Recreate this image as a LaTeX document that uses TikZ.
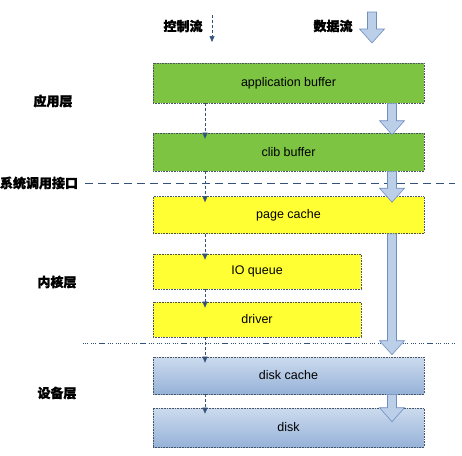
\documentclass[tikz,border=0pt]{standalone}
\usepackage{fontspec}
\setmainfont{Liberation Sans}
\newfontfamily\cjk{Noto Sans CJK SC}[BoldFeatures={FakeBold=1.5}]
\usetikzlibrary{calc,arrows.meta}
\definecolor{appgreen}{RGB}{124,196,66}
\definecolor{kernyellow}{RGB}{255,255,51}
\definecolor{devtop}{RGB}{204,219,238}
\definecolor{devbot}{RGB}{150,178,216}
\definecolor{flowfill}{RGB}{188,207,232}
\definecolor{flowline}{RGB}{112,142,192}
\definecolor{ctlblue}{RGB}{52,82,122}
\definecolor{boxline}{RGB}{70,84,100}

\newcommand\dataflow[2]{%
  \filldraw[flow] let \p1=(#1), \p2=(#2) in
    (\x1-4.5pt,\y1) -- (\x1-4.5pt,\y2+14pt) -- (\x1-12.5pt,\y2+14pt) -- (\x1,\y2)
    -- (\x1+12.5pt,\y2+14pt) -- (\x1+4.5pt,\y2+14pt) -- (\x1+4.5pt,\y1) -- cycle;}

\begin{document}
\begin{tikzpicture}[x=1pt,y=-1pt,
    layerbox/.style={draw=boxline, densely dotted, line width=0.6pt, inner sep=0pt,
      font=\fontsize{12.5}{14}\selectfont},
    widebox/.style={layerbox, minimum width=271pt},
    shortbox/.style={layerbox, minimum width=208pt},
    tag/.style={font=\cjk\bfseries\fontsize{13}{15}\selectfont, inner sep=0pt},
    ctl/.style={ctlblue, densely dashed, line width=0.5pt, -{Triangle[width=5pt,length=6pt]}},
    flow/.style={fill=flowfill, draw=flowline, line width=0.6pt},
    sepline/.style={ctlblue, line width=0.7pt}]
  \useasboundingbox (0,0) rectangle (462,455);

  \coordinate (c) at (205,0);
  \coordinate (d) at (392,0);

  \node[tag] (ctltag) at (183,26) {控制流};
  \node[tag] (datatag) at (333,26) {数据流};
  \coordinate (ctop) at (212,15);
  \coordinate (cbot) at (212,42);
  \coordinate (dtop) at (372,12);
  \coordinate (dbot) at (372,43);

  \node[widebox, minimum height=40pt, fill=appgreen] (app) at (288.5,83) {application buffer};
  \node[widebox, minimum height=38pt, fill=appgreen] (clib) at (288.5,152) {clib buffer};
  \node[widebox, minimum height=37pt, fill=kernyellow] (page) at (288.5,215) {page cache};
  \node[shortbox, minimum height=35pt, fill=kernyellow] (ioq) at (257,271.5) {IO queue};
  \node[shortbox, minimum height=35pt, fill=kernyellow] (drv) at (257,319.5) {driver};
  \node[widebox, minimum height=37pt, top color=devtop, bottom color=devbot] (dcache) at (288.5,375.5) {disk cache};
  \node[widebox, minimum height=39pt, top color=devtop, bottom color=devbot] (disk) at (288.5,427.5) {disk};

  \node[tag] (apptag) at (53,101) {应用层};
  \node[tag] (systag) at (39,183) {系统调用接口};
  \node[tag] (kerntag) at (57,282) {内核层};
  \node[tag] (devtag) at (57,393) {设备层};

  \coordinate (sysend) at (455,183);
  \coordinate (drvl) at (83,343);
  \coordinate (drvr) at (455,343);
  \draw[sepline, dash pattern=on 8pt off 5pt] ([xshift=7pt]systag.east) -- (sysend);
  \draw[sepline, dash pattern=on 1.2pt off 0.8pt on 1.2pt off 0.8pt on 1.2pt off 3pt] (drvl) -- (drvr);

  \draw[ctl] (ctop) -- (cbot);
  \draw[ctl] (app.south -| c) -- ($(clib.north -| c)+(0,6)$);
  \draw[ctl] (clib.south -| c) -- ($(page.north -| c)+(0,6)$);
  \draw[ctl] (page.south -| c) -- ($(ioq.north -| c)+(0,6)$);
  \draw[ctl] (ioq.south -| c) -- ($(drv.north -| c)+(0,6)$);
  \draw[ctl] (drv.south -| c) -- ($(dcache.north -| c)+(0,6)$);
  \draw[ctl] (dcache.south -| c) -- ($(disk.north -| c)+(0,6)$);

  \dataflow{dtop}{dbot}
  \dataflow{app.south -| d}{$(clib.north -| d)+(0,2)$}
  \dataflow{clib.south -| d}{$(page.north -| d)+(0,6)$}
  \dataflow{page.south -| d}{$(dcache.north -| d)+(0,-2)$}
  \dataflow{dcache.south -| d}{$(disk.north -| d)+(0,14)$}
\end{tikzpicture}
\end{document}
